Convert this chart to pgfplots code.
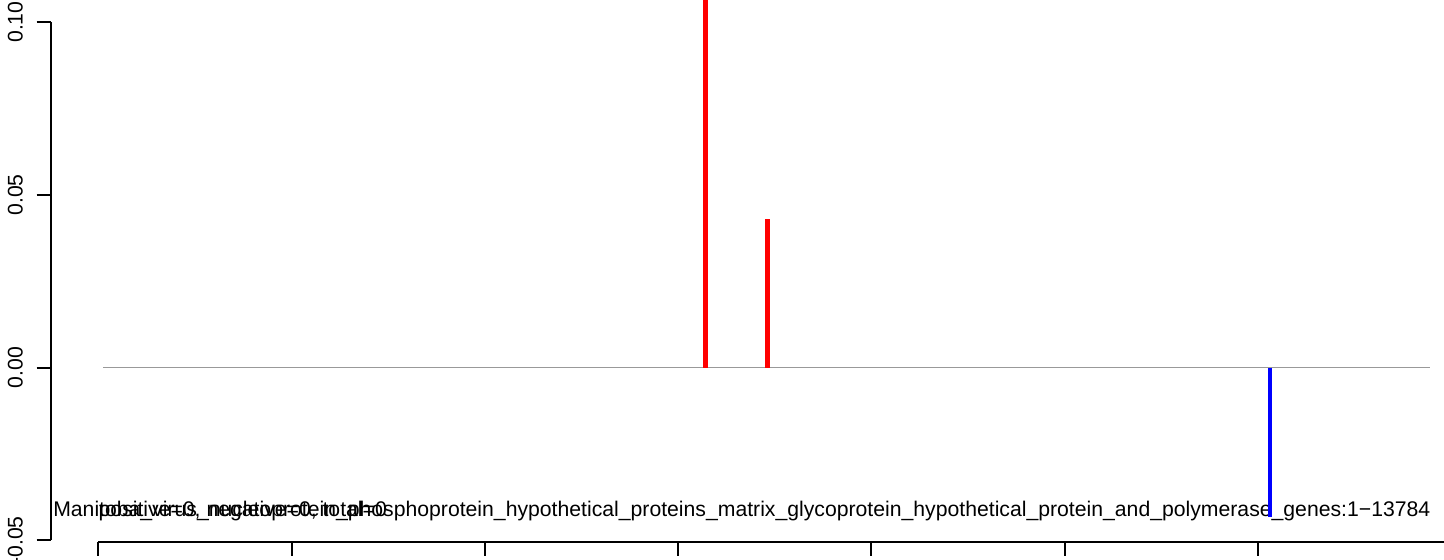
\documentclass[border=0pt]{standalone}
\usepackage{fontspec}
\setmainfont{Liberation Sans}
\usepackage{pgfplots}
\pgfplotsset{compat=1.18}
\begin{document}
\begin{tikzpicture}
\useasboundingbox (0,0) rectangle (722pt,280pt);
\clip (0,0) rectangle (722pt,280pt);
\begin{axis}[
  at={(49.15pt,9.75pt)}, anchor=south west,
  scale only axis, width=676.5pt, height=259.2pt,
  xmin=0, xmax=14000, ymin=-0.05, ymax=0.10,
  clip=false,
  separate axis lines,
  axis x line*=bottom, axis y line*=left,
  axis x line shift=0.6pt, axis y line shift=23.8pt,
  axis line style={line width=1pt, -},
  tick style={line width=1pt, black},
  tick align=outside, major tick length=7pt,
  xtick={0,2000,4000,6000,8000,10000,12000,14000}, xticklabels={},
  ytick={-0.05,0,0.05,0.10}, yticklabels={-0.05,0.00,0.05,0.10},
  yticklabel style={rotate=90, anchor=base, inner sep=0pt, font=\fontsize{10.6}{12}\selectfont},
  yticklabel shift=7pt,
]
\node[anchor=base west, inner sep=0pt, font=\fontsize{10.6}{12}\selectfont] at (axis cs:-470,-0.04306) {Manitoba\_virus\_nucleoprotein\_phosphoprotein\_hypothetical\_proteins\_matrix\_glycoprotein\_hypothetical\_protein\_and\_polymerase\_genes:1−13784};
\node[anchor=base west, inner sep=0pt, font=\fontsize{10.6}{12}\selectfont] at (axis cs:0,-0.04306) {positive=0, negative=0, total=0};
\addplot[black!40, line width=0.65pt] coordinates {(50,0) (13784,0)};
\addplot[red, line width=2.5pt, ycomb] coordinates {(6278,0.125) (6920,0.0431)};
\addplot[blue, line width=2.4pt, ycomb] coordinates {(12124,-0.0431)};
\end{axis}
\end{tikzpicture}
\end{document}
